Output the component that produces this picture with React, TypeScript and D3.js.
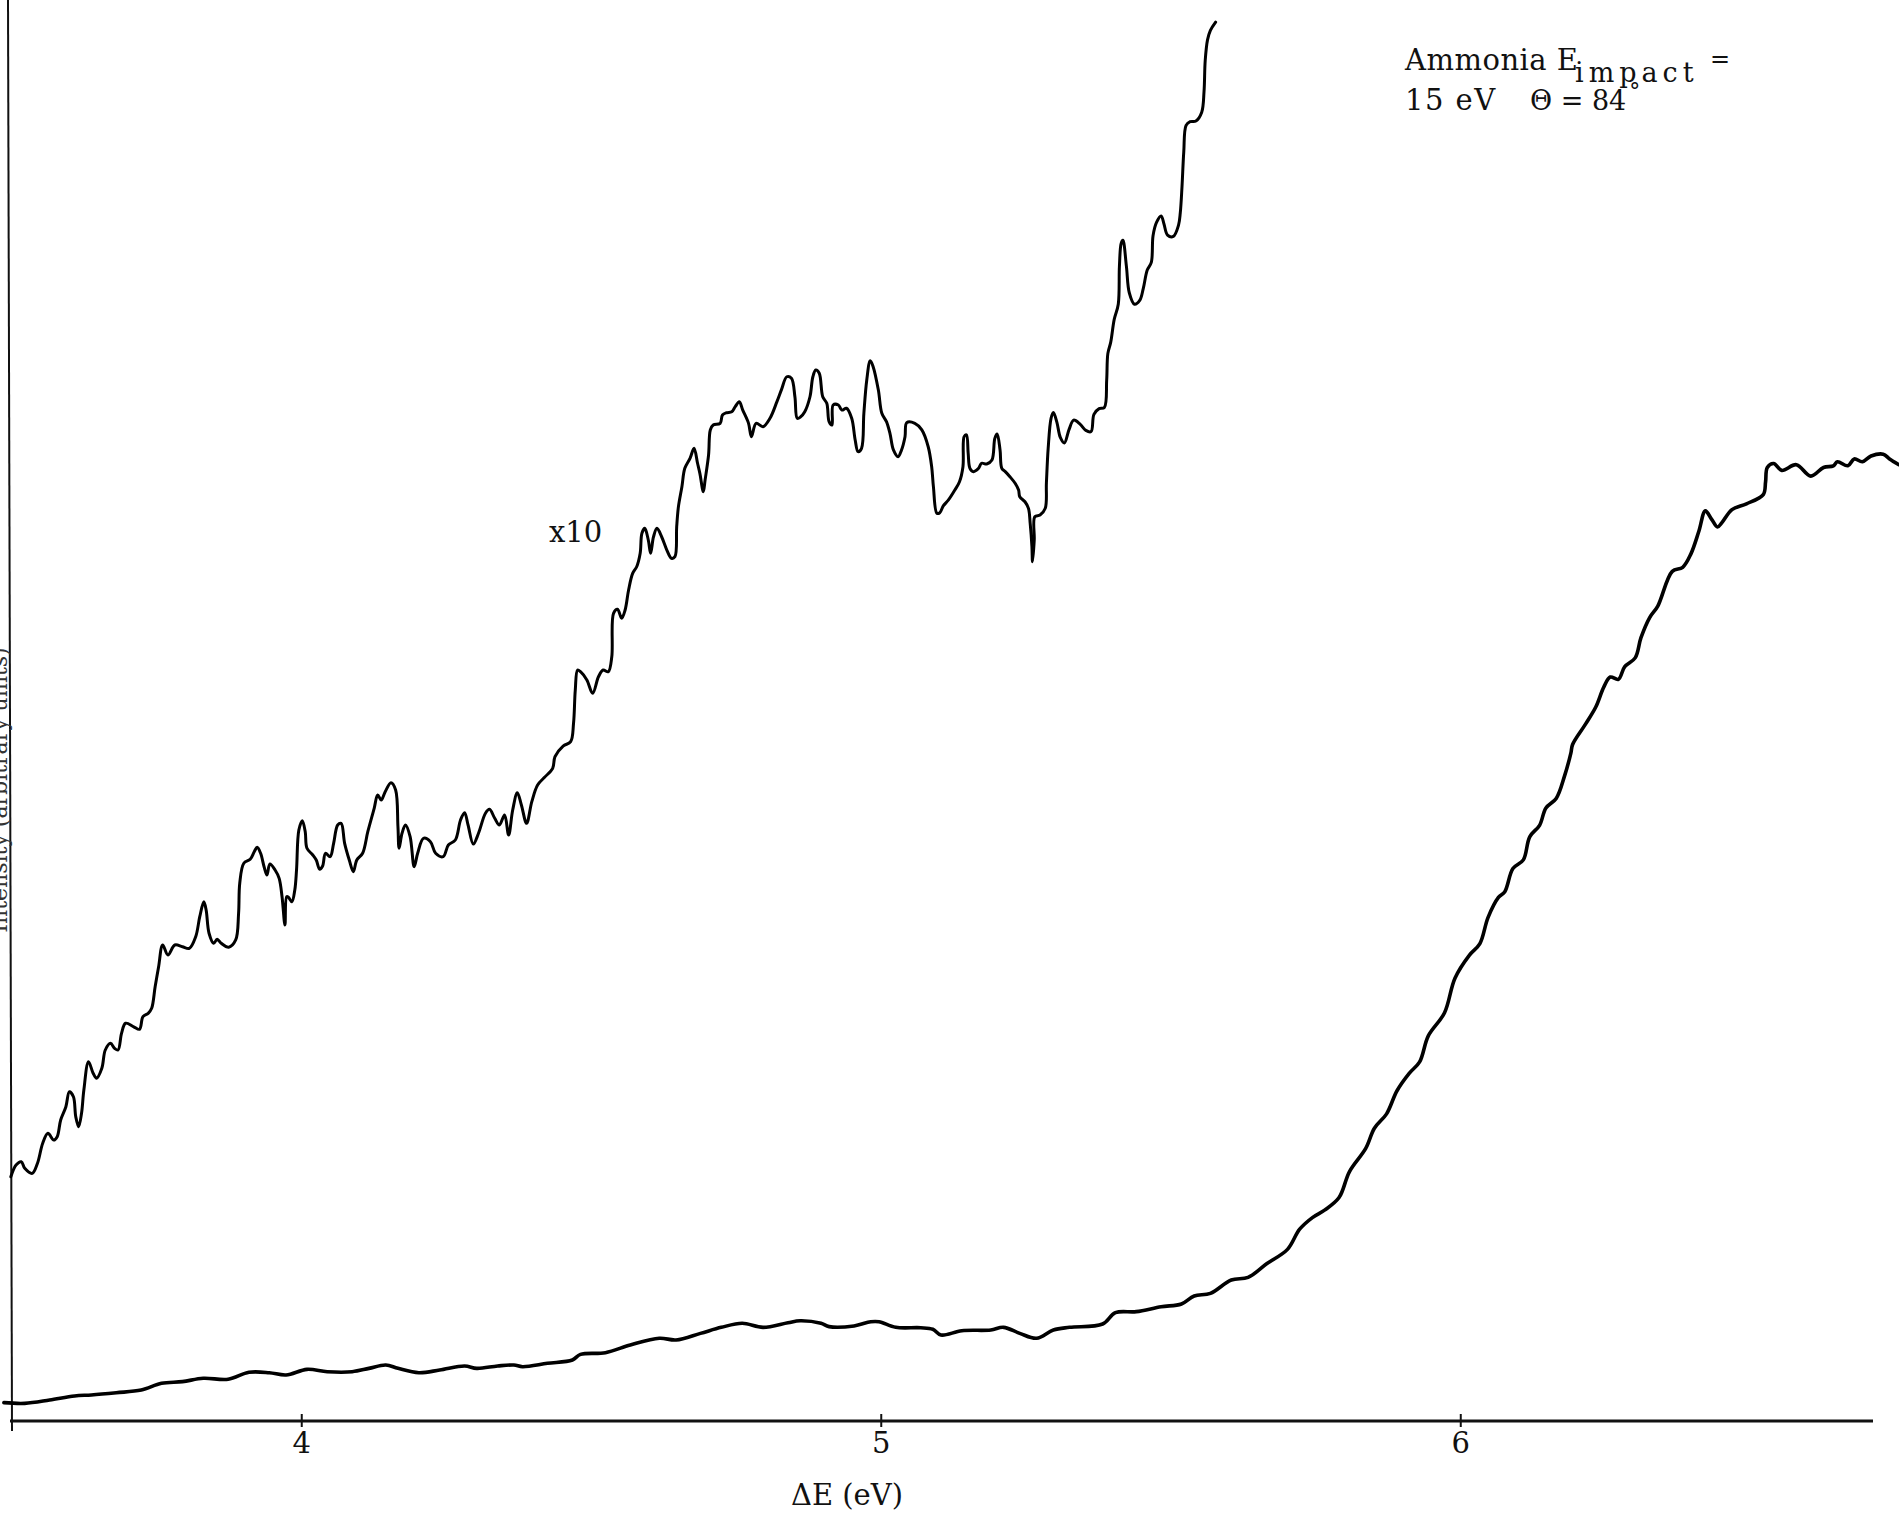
import React from "react";
import * as d3 from "d3";

// ---- Data (ΔE in eV, intensity in arbitrary units) ----
const lowerEnergy = [3.486,3.522,3.565,3.608,3.637,3.680,3.723,3.758,3.794,3.830,3.873,3.909,3.944,3.973,4.009,4.044,4.087,4.116,4.145,4.166,4.202,4.238,4.281,4.302,4.338,4.366,4.381,4.424,4.467,4.481,4.524,4.567,4.617,4.646,4.688,4.724,4.760,4.796,4.839,4.860,4.896,4.910,4.953,4.982,4.996,5.025,5.068,5.089,5.103,5.139,5.189,5.211,5.239,5.268,5.297,5.325,5.382,5.404,5.440,5.483,5.518,5.540,5.568,5.604,5.633,5.665,5.701,5.722,5.744,5.765,5.790,5.808,5.836,5.851,5.872,5.890,5.911,5.929,5.944,5.972,5.990,6.015,6.033,6.047,6.065,6.076,6.090,6.108,6.119,6.136,6.147,6.165,6.179,6.190,6.193,6.215,6.233,6.247,6.258,6.272,6.283,6.301,6.311,6.326,6.340,6.365,6.383,6.397,6.411,6.422,6.433,6.443,6.451,6.468,6.493,6.522,6.526,6.529,6.540,6.554,6.579,6.604,6.626,6.643,6.650,6.668,6.679,6.693,6.708,6.729,6.740,6.756];
const lowerSignal = [1.31,1.26,1.5,1.79,1.86,2.02,2.21,2.69,2.81,3.05,2.98,3.48,3.45,3.29,3.69,3.52,3.52,3.76,4.0,3.76,3.45,3.64,3.93,3.76,3.93,4.0,3.88,4.12,4.36,4.76,4.88,5.43,5.91,5.79,6.26,6.69,6.98,6.69,7.02,7.16,6.98,6.74,6.79,7.09,7.09,6.69,6.66,6.55,6.14,6.45,6.5,6.69,6.26,5.91,6.5,6.69,6.93,7.74,7.81,8.16,8.36,8.93,9.12,10.07,10.26,11.23,12.26,13.7,14.53,15.06,15.96,17.82,19.47,20.91,21.94,23.59,24.83,25.65,27.51,29.16,31.63,33.28,34.1,35.96,37.4,37.81,39.46,40.08,41.73,42.55,43.79,44.49,46.06,47.71,48.32,49.76,51.0,52.44,53.14,52.98,53.89,54.51,55.95,57.39,58.21,60.69,60.98,61.92,63.57,65.01,64.4,63.86,64.19,65.1,65.51,66.17,67.08,68.11,68.39,67.9,68.31,67.49,68.11,68.23,68.52,68.23,68.72,68.52,68.93,69.06,68.72,68.31];

const x10Energy = [3.498,3.507,3.516,3.522,3.535,3.544,3.553,3.562,3.572,3.578,3.584,3.593,3.599,3.606,3.610,3.615,3.620,3.624,3.632,3.640,3.646,3.655,3.661,3.670,3.677,3.683,3.689,3.696,3.710,3.720,3.726,3.735,3.741,3.747,3.753,3.760,3.769,3.781,3.794,3.806,3.817,3.824,3.831,3.835,3.840,3.848,3.854,3.861,3.874,3.886,3.891,3.893,3.900,3.911,3.918,3.923,3.929,3.935,3.940,3.945,3.954,3.961,3.966,3.971,3.974,3.977,3.983,3.988,3.991,3.995,4.001,4.006,4.009,4.019,4.025,4.031,4.036,4.041,4.049,4.055,4.062,4.068,4.074,4.082,4.089,4.095,4.105,4.114,4.125,4.131,4.137,4.144,4.154,4.162,4.166,4.168,4.173,4.179,4.187,4.194,4.200,4.210,4.222,4.231,4.244,4.253,4.265,4.274,4.281,4.287,4.296,4.305,4.317,4.324,4.333,4.341,4.350,4.357,4.364,4.372,4.379,4.388,4.397,4.407,4.419,4.433,4.437,4.451,4.464,4.469,4.472,4.476,4.481,4.492,4.502,4.512,4.520,4.529,4.535,4.538,4.545,4.552,4.558,4.564,4.571,4.578,4.584,4.587,4.592,4.598,4.602,4.607,4.613,4.621,4.630,4.638,4.644,4.647,4.650,4.656,4.661,4.670,4.677,4.683,4.687,4.693,4.696,4.702,4.705,4.710,4.722,4.726,4.733,4.742,4.748,4.755,4.761,4.771,4.776,4.784,4.796,4.808,4.820,4.828,4.837,4.845,4.851,4.855,4.860,4.868,4.877,4.882,4.887,4.893,4.899,4.906,4.910,4.915,4.917,4.926,4.932,4.940,4.949,4.955,4.960,4.966,4.970,4.975,4.981,4.986,4.995,5.001,5.009,5.015,5.021,5.029,5.035,5.041,5.044,5.058,5.070,5.081,5.087,5.090,5.096,5.101,5.107,5.116,5.127,5.135,5.141,5.143,5.147,5.150,5.153,5.159,5.168,5.173,5.182,5.191,5.196,5.200,5.205,5.208,5.214,5.222,5.231,5.237,5.239,5.248,5.254,5.257,5.260,5.261,5.264,5.265,5.274,5.283,5.285,5.288,5.293,5.297,5.303,5.309,5.316,5.324,5.332,5.343,5.353,5.362,5.367,5.376,5.385,5.389,5.391,5.396,5.402,5.409,5.411,5.414,5.417,5.423,5.428,5.437,5.446,5.452,5.459,5.466,5.469,5.475,5.483,5.488,5.494,5.504,5.513,5.516,5.519,5.522,5.526,5.533,5.543,5.553,5.557,5.559,5.563,5.568,5.577];
const x10Signal = [17.45,18.29,18.52,18.05,17.69,18.41,19.84,20.55,20.07,20.31,21.5,22.45,23.52,23.16,21.74,21.02,21.98,23.64,25.66,24.84,24.48,25.19,26.5,26.98,26.62,26.5,27.69,28.41,28.16,27.98,28.88,29.12,29.48,31.02,32.45,34.0,33.29,34.0,33.88,33.76,34.59,36.02,37.09,36.5,34.84,34.12,34.41,34.12,33.84,34.36,36.26,38.41,39.84,40.12,40.66,40.98,40.55,39.59,39.0,39.79,39.36,38.76,37.45,35.43,37.45,37.41,37.09,37.93,39.36,42.21,42.88,42.09,40.91,40.43,40.07,39.41,39.64,40.55,40.31,41.26,42.57,42.69,41.26,40.07,39.24,40.07,40.55,42.09,43.76,44.71,44.36,44.95,45.59,45.07,42.45,40.91,41.98,42.57,41.74,39.59,40.55,41.62,41.38,40.55,40.31,41.14,41.5,42.93,43.45,42.57,41.21,41.98,43.41,43.69,43.05,42.57,43.29,41.86,43.64,44.88,44.0,42.69,44.24,45.43,45.98,46.62,47.45,48.21,48.52,49.84,52.21,53.64,53.52,52.93,51.98,53.16,53.64,53.52,54.59,57.69,57.98,57.34,57.93,59.36,60.55,61.02,61.98,63.41,63.76,62.93,61.98,63.16,63.76,63.16,62.21,61.62,61.74,63.88,65.31,66.74,68.05,68.76,69.48,68.41,67.69,66.38,67.21,69.0,70.79,71.14,71.26,71.86,72.02,72.09,72.45,72.81,72.21,71.26,70.31,71.26,71.02,71.62,72.81,73.69,74.59,74.48,73.16,71.62,71.69,72.09,73.16,74.59,75.07,74.84,73.16,72.69,71.38,71.14,72.57,72.57,72.21,72.34,71.62,70.07,69.24,69.48,71.98,74.36,75.74,75.31,73.64,71.98,71.38,70.55,69.36,68.88,69.36,70.31,71.31,71.26,70.79,69.59,68.16,66.74,64.84,64.88,65.36,65.79,66.5,67.09,68.16,70.31,70.43,69.12,68.05,67.81,68.05,68.41,68.36,68.64,70.19,70.5,69.36,68.05,67.81,67.45,66.98,66.5,66.02,65.66,65.19,64.12,62.45,61.38,62.93,64.59,64.71,65.19,67.01,69.45,71.62,72.04,71.35,70.26,69.86,70.81,71.49,71.21,70.76,70.67,71.9,72.31,72.39,74.34,76.24,77.06,78.69,79.77,82.49,84.12,84.34,82.49,80.59,79.77,80.04,80.86,82.21,82.76,84.66,85.61,86.07,85.48,84.71,84.61,85.42,86.29,88.19,90.64,92.54,92.81,92.86,93.49,94.98,97.16,98.65,99.33,99.92];

const xTicks = [4, 5, 6];
const xAxisTitle = "\u0394E (eV)";
const yAxisTitle = "Intensity (arbitrary units)";
const gainLabel = "x10";

const W = 1899;
const H = 1514;

export default function App() {
  const x = d3.scaleLinear().domain([3.5, 6.72]).range([12, 1878]);
  const y = d3.scaleLinear().domain([0, 100]).range([1421, 21]);

  const line = d3
    .line<[number, number]>()
    .x((d) => x(d[0]))
    .y((d) => y(d[1]))
    .curve(d3.curveCatmullRom.alpha(0.5));

  const lower = lowerEnergy.map((e, i) => [e, lowerSignal[i]] as [number, number]);
  const mag = x10Energy.map((e, i) => [e, x10Signal[i]] as [number, number]);

  const serif = "'DejaVu Serif', 'Liberation Serif', serif";
  const y0 = y(0);

  return (
    <svg
      width={W}
      height={H}
      viewBox={`0 0 ${W} ${H}`}
      style={{ position: "absolute", left: 0, top: 0, background: "#fff" }}
    >
      <rect x={0} y={0} width={W} height={H} fill="#fff" />
      {/* left axis line */}
      <line x1={8} y1={0} x2={12} y2={y0 + 10} stroke="#111" strokeWidth={2} />
      <text
        transform={`translate(7, 790) rotate(-90)`}
        textAnchor="middle"
        fontFamily={serif}
        fontSize={22}
        fill="#333"
      >
        {yAxisTitle}
      </text>
      {/* bottom axis */}
      <line x1={x(3.5) - 2} y1={y0} x2={1873} y2={y0} stroke="#111" strokeWidth={3} />
      {xTicks.map((t) => (
        <g key={t}>
          <line x1={x(t)} y1={y0 - 7} x2={x(t)} y2={y0 + 6} stroke="#111" strokeWidth={2} />
          <text
            x={x(t)}
            y={y0 + 32}
            textAnchor="middle"
            fontFamily={serif}
            fontSize={29}
            fill="#111"
          >
            {t}
          </text>
        </g>
      ))}
      <text x={847} y={1505} textAnchor="middle" fontFamily={serif} fontSize={29} fill="#111">
        {xAxisTitle}
      </text>

      {/* curves */}
      <path d={line(lower) || ""} fill="none" stroke="#000" strokeWidth={3.6} strokeLinejoin="round" strokeLinecap="round" />
      <path d={line(mag) || ""} fill="none" stroke="#000" strokeWidth={3} strokeLinejoin="round" strokeLinecap="round" />

      <text x={549} y={542} fontFamily={serif} fontSize={29} fill="#111">
        {gainLabel}
      </text>

      {/* annotation */}
      <g fontFamily={serif} fill="#111">
        <text x={1405} y={70} fontSize={29} letterSpacing={0.5}>
          Ammonia E
        </text>
        <text x={1575} y={82} fontSize={27} letterSpacing={5}>
          impact
        </text>
        <text x={1710} y={67} fontSize={24}>
          =
        </text>
        <text x={1405} y={110} fontSize={29} letterSpacing={1.5}>
          15 eV
        </text>
        <text x={1530} y={110} fontSize={27}>
          {"\u0398 = 84"}
          <tspan dx={3} dy={-11} fontSize={22}>
            {"\u00B0"}
          </tspan>
        </text>
      </g>
    </svg>
  );
}
